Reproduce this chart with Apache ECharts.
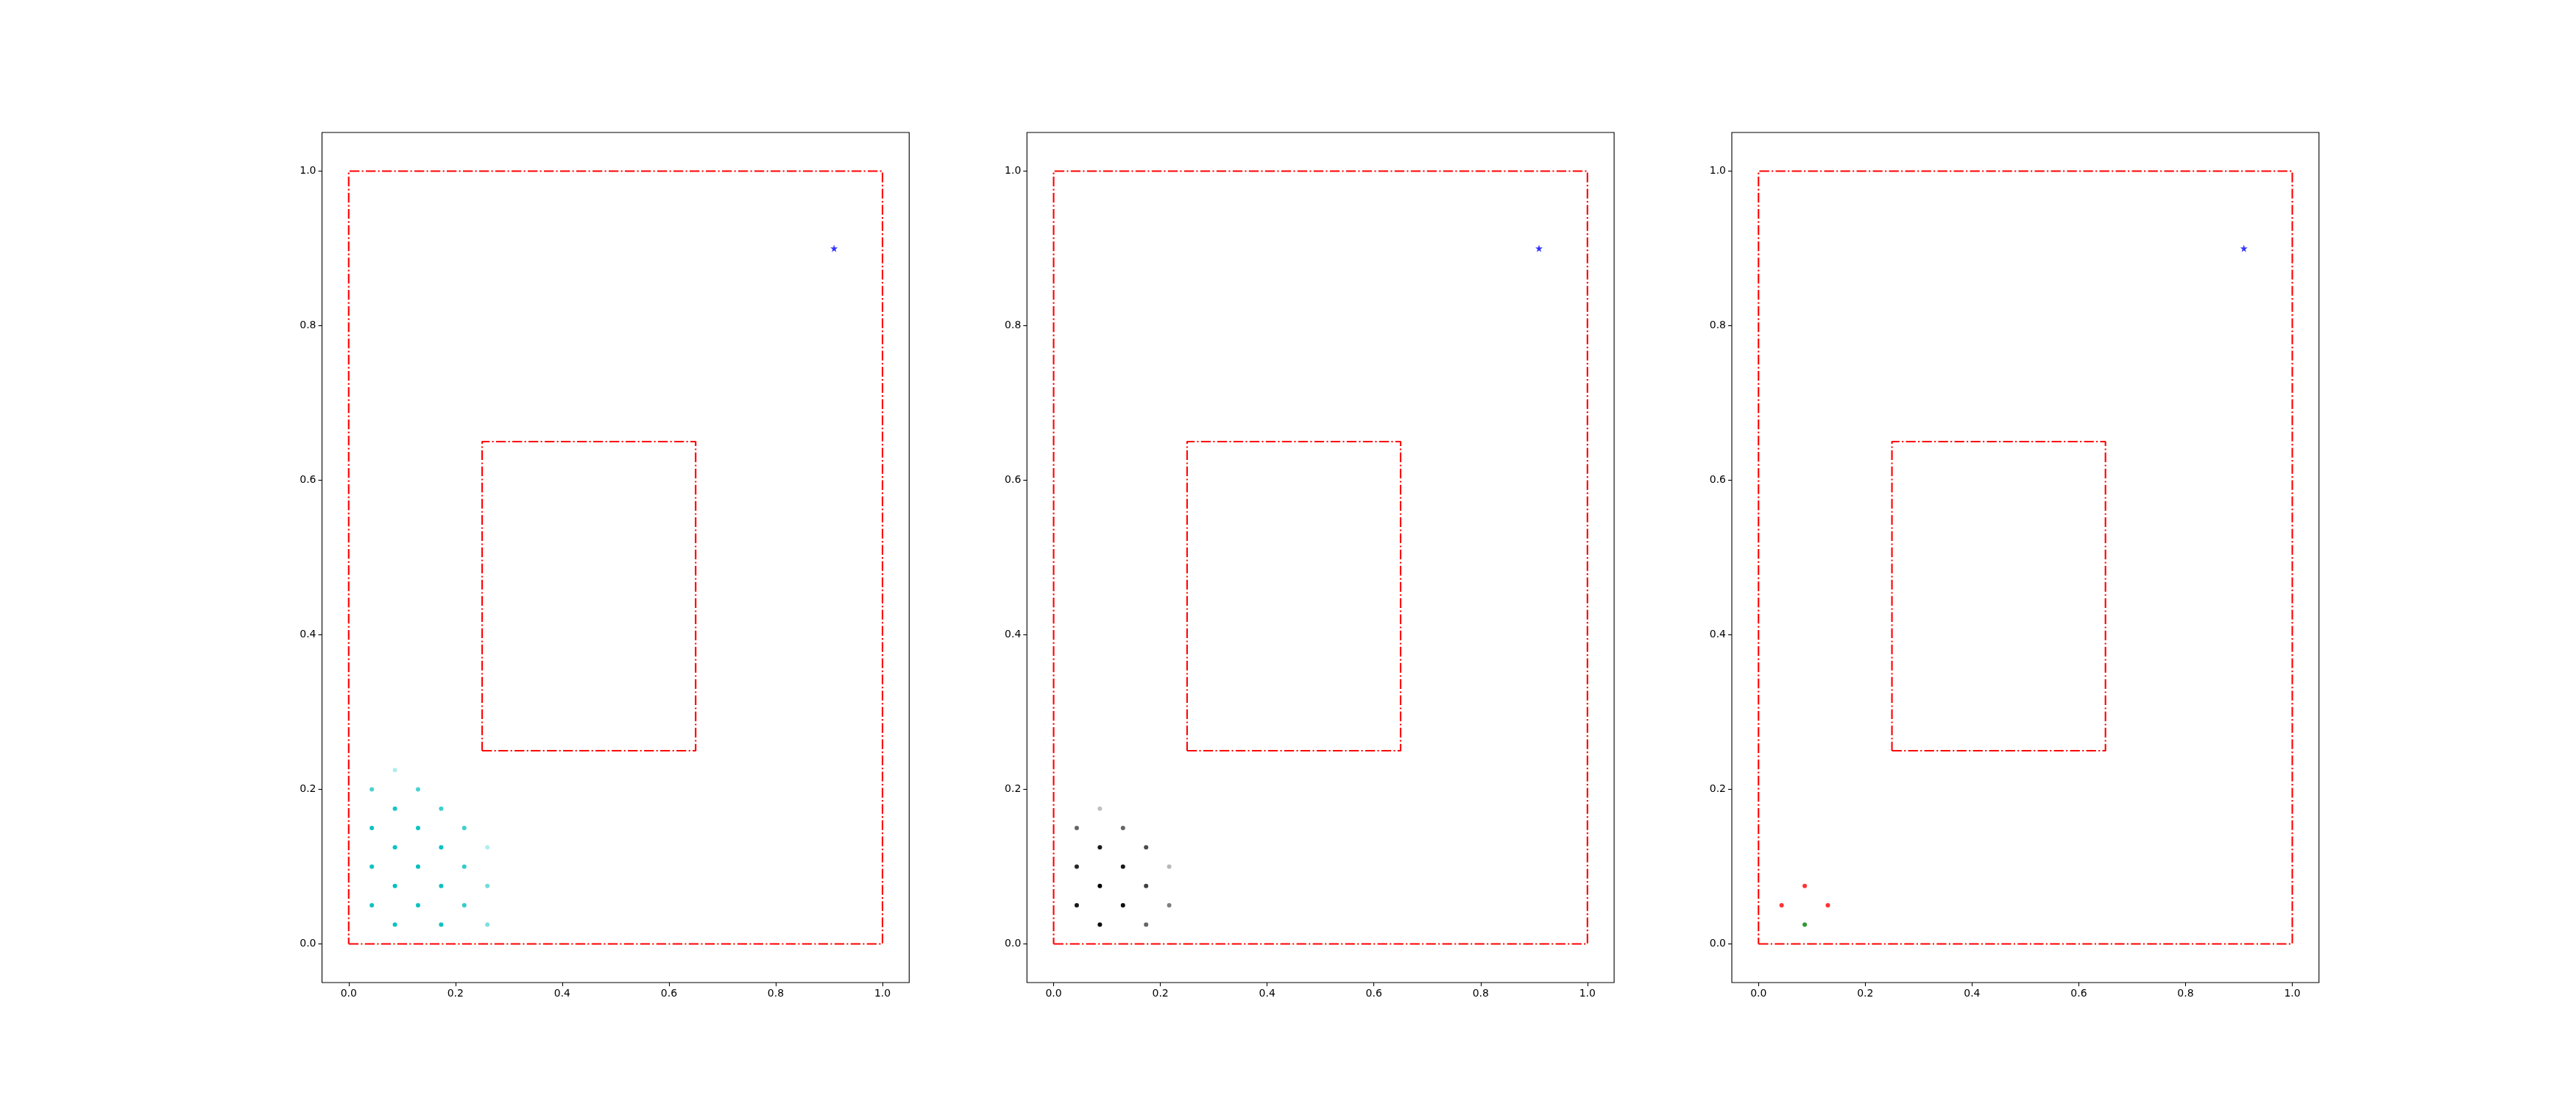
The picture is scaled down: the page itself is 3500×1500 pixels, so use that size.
<!DOCTYPE html>
<html>
<head>
<meta charset="utf-8">
<script src="https://cdn.jsdelivr.net/npm/echarts@6/dist/echarts.min.js"></script>
<style>
html,body{margin:0;padding:0;background:#fff;}
#chart{width:3500px;height:1500px;}
</style>
</head>
<body>
<div id="chart"></div>
<script>
// ---- data ----
const tickValues = [0.0, 0.2, 0.4, 0.6, 0.8, 1.0];
const axisMin = -0.05, axisMax = 1.05;
const outerRect = [[0, 0], [1, 0], [1, 1], [0, 1], [0, 0]];
const innerRect = [[0.25, 0.25], [0.65, 0.25], [0.65, 0.65], [0.25, 0.65], [0.25, 0.25]];
const starPoint = [0.9093, 0.9];
// [x, y, opacity]
const cyanPoints = [
  [0.0433, 0.200, 0.70], [0.0433, 0.150, 0.95], [0.0433, 0.100, 0.95], [0.0433, 0.050, 0.95],
  [0.0866, 0.225, 0.30], [0.0866, 0.175, 0.90], [0.0866, 0.125, 0.95], [0.0866, 0.075, 1.00], [0.0866, 0.025, 0.95],
  [0.1299, 0.200, 0.70], [0.1299, 0.150, 0.95], [0.1299, 0.100, 1.00], [0.1299, 0.050, 0.95],
  [0.1732, 0.175, 0.75], [0.1732, 0.125, 0.95], [0.1732, 0.075, 0.95], [0.1732, 0.025, 0.95],
  [0.2165, 0.150, 0.75], [0.2165, 0.100, 0.80], [0.2165, 0.050, 0.80],
  [0.2598, 0.125, 0.30], [0.2598, 0.075, 0.55], [0.2598, 0.025, 0.50]
];
const blackPoints = [
  [0.0433, 0.150, 0.60], [0.0433, 0.100, 0.85], [0.0433, 0.050, 0.90],
  [0.0866, 0.175, 0.25], [0.0866, 0.125, 0.90], [0.0866, 0.075, 1.00], [0.0866, 0.025, 0.95],
  [0.1299, 0.150, 0.60], [0.1299, 0.100, 0.90], [0.1299, 0.050, 0.95],
  [0.1732, 0.125, 0.70], [0.1732, 0.075, 0.75], [0.1732, 0.025, 0.60],
  [0.2165, 0.100, 0.28], [0.2165, 0.050, 0.50]
];
const redPoints = [[0.0433, 0.050], [0.0866, 0.075], [0.1299, 0.050]];
const greenPoints = [[0.0866, 0.025]];

// ---- layout ----
const gridLefts = [437.5, 1395.3, 2353];
const gridWidth = 797.8;
const gridTop = 180;
const gridHeight = 1155;

const starPath = 'path://M50,0 L61.8,35.4 L100,35.4 L69.1,57.3 L80.9,92.7 L50,70.8 L19.1,92.7 L30.9,57.3 L0,35.4 L38.2,35.4 Z';

function fmt(v) { return v.toFixed(1); }

const grids = [], xAxes = [], yAxes = [], series = [];
const axisLabelStyle = {
  color: '#000', fontSize: 14, fontFamily: 'DejaVu Sans', margin: 8, formatter: fmt,
  customValues: tickValues, showMinLabel: true, showMaxLabel: true
};
gridLefts.forEach((left, i) => {
  grids.push({ left: left, top: gridTop, width: gridWidth, height: gridHeight, show: true,
    borderColor: '#000', borderWidth: 1.1, backgroundColor: '#fff', containLabel: false });
  xAxes.push({ type: 'value', gridIndex: i, min: axisMin, max: axisMax, position: 'bottom',
    axisLine: { show: false, onZero: false }, splitLine: { show: false },
    axisTick: { show: true, length: 5, lineStyle: { color: '#000', width: 1.1 }, customValues: tickValues },
    axisLabel: axisLabelStyle });
  yAxes.push({ type: 'value', gridIndex: i, min: axisMin, max: axisMax, position: 'left',
    axisLine: { show: false, onZero: false }, splitLine: { show: false },
    axisTick: { show: true, length: 5, lineStyle: { color: '#000', width: 1.1 }, customValues: tickValues },
    axisLabel: axisLabelStyle });
  const rectStyle = { color: '#ff0000', width: 2.1, type: [13.3, 3.3, 2.1, 3.3], cap: 'butt' };
  [outerRect, innerRect].forEach(r => {
    series.push({ type: 'line', xAxisIndex: i, yAxisIndex: i, data: r, showSymbol: false, symbol: 'none',
      lineStyle: rectStyle, silent: true, animation: false, z: 2 });
  });
  series.push({ type: 'scatter', xAxisIndex: i, yAxisIndex: i, data: [starPoint], symbol: starPath,
    symbolSize: 10, itemStyle: { color: '#0000ff' }, animation: false, z: 3 });
});

function ptItems(arr) {
  return arr.map(p => ({ value: [p[0], p[1]], itemStyle: { opacity: p[2] } }));
}
series.push({ type: 'scatter', xAxisIndex: 0, yAxisIndex: 0, data: ptItems(cyanPoints), symbol: 'circle',
  symbolSize: 6, itemStyle: { color: '#00bfbf' }, animation: false, z: 3 });
series.push({ type: 'scatter', xAxisIndex: 1, yAxisIndex: 1, data: ptItems(blackPoints), symbol: 'circle',
  symbolSize: 6, itemStyle: { color: '#000000' }, animation: false, z: 3 });
series.push({ type: 'scatter', xAxisIndex: 2, yAxisIndex: 2, data: redPoints, symbol: 'circle',
  symbolSize: 6, itemStyle: { color: '#ff0000' }, animation: false, z: 3 });
series.push({ type: 'scatter', xAxisIndex: 2, yAxisIndex: 2, data: greenPoints, symbol: 'circle',
  symbolSize: 6, itemStyle: { color: '#008000' }, animation: false, z: 3 });

const chart = echarts.init(document.getElementById('chart'), null, { renderer: 'canvas' });
chart.setOption({
  backgroundColor: '#fff',
  animation: false,
  grid: grids,
  xAxis: xAxes,
  yAxis: yAxes,
  series: series
});
</script>
</body>
</html>
